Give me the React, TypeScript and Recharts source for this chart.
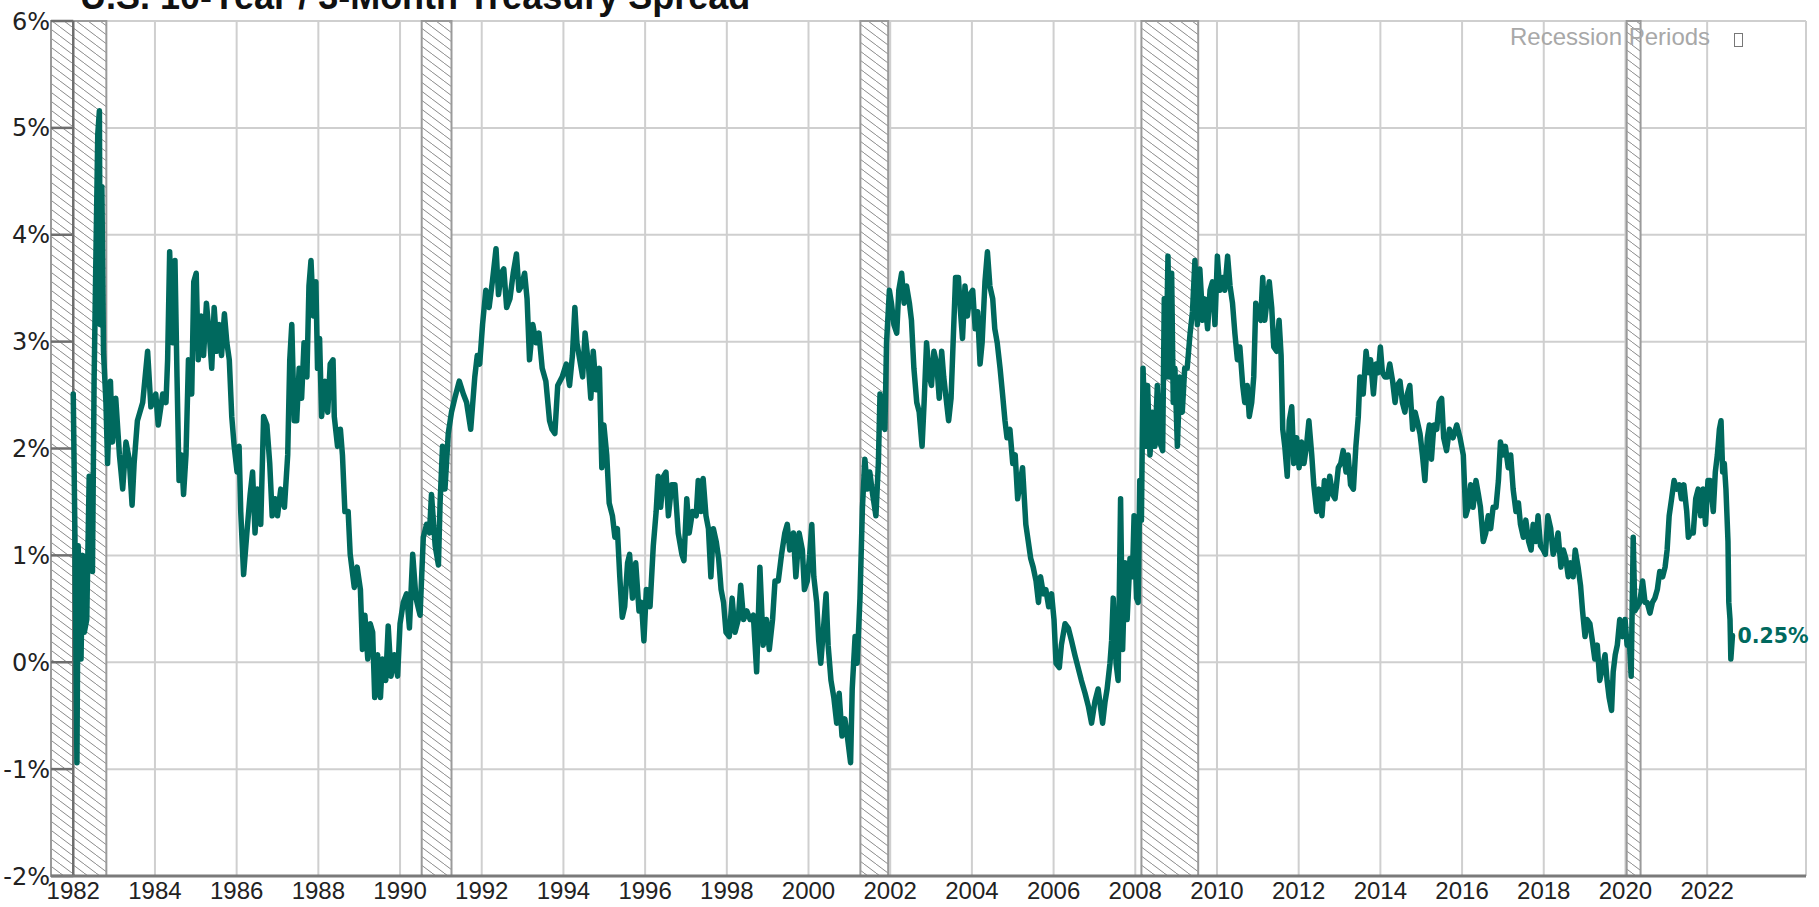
import {
  LineChart,
  Line,
  XAxis,
  YAxis,
  CartesianGrid,
  ReferenceArea,
  ReferenceLine,
  ReferenceDot,
} from 'recharts'

// 10y - 3m spread, %, [decimal year, value]
const spread1982: [number, number][] = [
  [1982.0, 2.51], [1982.04, 1.21], [1982.09, -0.94], [1982.12, 1.09], [1982.19, 0.03], [1982.23, 1.0],
  [1982.27, 0.28], [1982.33, 0.4], [1982.39, 1.74], [1982.47, 0.85], [1982.51, 2.63], [1982.55, 3.68],
  [1982.6, 4.94], [1982.64, 5.16], [1982.66, 3.16], [1982.7, 4.45], [1982.74, 2.91], [1982.8, 2.43],
  [1982.84, 1.86], [1982.91, 2.63], [1982.96, 2.06], [1983.04, 2.47], [1983.13, 1.94], [1983.21, 1.62],
  [1983.29, 2.06], [1983.37, 1.9], [1983.44, 1.47], [1983.49, 1.86], [1983.57, 2.26], [1983.7, 2.43],
  [1983.82, 2.91], [1983.9, 2.39], [1984.02, 2.51], [1984.08, 2.22], [1984.19, 2.51], [1984.27, 2.43],
  [1984.31, 2.83], [1984.36, 3.84], [1984.43, 2.99], [1984.49, 3.76], [1984.54, 2.67], [1984.59, 1.7],
  [1984.65, 1.94], [1984.7, 1.57], [1984.76, 1.94], [1984.82, 2.83], [1984.9, 2.51], [1984.95, 3.56],
  [1985.01, 3.64], [1985.06, 2.83], [1985.13, 3.24], [1985.19, 2.87], [1985.26, 3.36], [1985.33, 3.07],
  [1985.39, 2.75], [1985.45, 3.32], [1985.52, 2.91], [1985.57, 3.16], [1985.63, 2.87], [1985.7, 3.26],
  [1985.76, 2.99], [1985.82, 2.83], [1985.88, 2.3], [1985.94, 2.02], [1986.01, 1.78], [1986.06, 2.02],
  [1986.1, 1.41], [1986.17, 0.82], [1986.25, 1.21], [1986.33, 1.57], [1986.39, 1.78], [1986.45, 1.21],
  [1986.51, 1.62], [1986.59, 1.29], [1986.66, 2.3], [1986.74, 2.22], [1986.81, 1.86], [1986.87, 1.37],
  [1986.94, 1.53], [1987.0, 1.37], [1987.08, 1.62], [1987.17, 1.45], [1987.25, 1.94], [1987.3, 2.83],
  [1987.35, 3.16], [1987.41, 2.26], [1987.47, 2.26], [1987.53, 2.75], [1987.59, 2.47], [1987.65, 2.99],
  [1987.72, 2.67], [1987.77, 3.52], [1987.82, 3.76], [1987.88, 3.24], [1987.94, 3.56], [1987.98, 2.75],
  [1988.03, 3.03], [1988.08, 2.3], [1988.16, 2.63], [1988.23, 2.34], [1988.29, 2.79], [1988.36, 2.83],
  [1988.39, 2.3], [1988.47, 2.02], [1988.54, 2.18], [1988.59, 1.94], [1988.65, 1.41], [1988.73, 1.41],
  [1988.78, 1.01], [1988.88, 0.7], [1988.95, 0.89], [1989.03, 0.68], [1989.08, 0.12], [1989.14, 0.44],
  [1989.21, 0.03], [1989.27, 0.36], [1989.33, 0.28], [1989.38, -0.33], [1989.45, 0.07], [1989.52, -0.33],
  [1989.57, 0.03], [1989.65, -0.17], [1989.71, 0.34], [1989.78, -0.13], [1989.86, 0.07], [1989.94, -0.13],
  [1990.0, 0.36],
]

const spread1990: [number, number][] = [
  [1990.08, 0.56], [1990.16, 0.64], [1990.23, 0.32], [1990.31, 1.01], [1990.39, 0.6], [1990.49, 0.44],
  [1990.57, 1.17], [1990.65, 1.29], [1990.72, 1.21], [1990.77, 1.57], [1990.86, 1.09], [1990.94, 0.91],
  [1990.98, 1.49], [1991.04, 2.02], [1991.1, 1.62], [1991.18, 2.14], [1991.26, 2.34], [1991.34, 2.47],
  [1991.45, 2.63], [1991.55, 2.51], [1991.63, 2.43], [1991.73, 2.18], [1991.83, 2.67], [1991.89, 2.87],
  [1991.95, 2.79], [1992.02, 3.16], [1992.1, 3.48], [1992.18, 3.32], [1992.26, 3.56], [1992.35, 3.87],
  [1992.41, 3.44], [1992.48, 3.64], [1992.54, 3.68], [1992.61, 3.32], [1992.69, 3.4], [1992.77, 3.64],
  [1992.85, 3.82], [1992.91, 3.48], [1992.97, 3.52], [1993.05, 3.64], [1993.11, 3.4], [1993.17, 2.83],
  [1993.25, 3.16], [1993.33, 2.99], [1993.4, 3.08], [1993.48, 2.75], [1993.57, 2.63], [1993.66, 2.26],
  [1993.72, 2.18], [1993.79, 2.14], [1993.86, 2.59], [1993.97, 2.67], [1994.07, 2.79], [1994.15, 2.59],
  [1994.22, 2.87], [1994.28, 3.32], [1994.33, 2.99], [1994.4, 2.83], [1994.47, 2.67], [1994.53, 3.08],
  [1994.61, 2.79], [1994.67, 2.47], [1994.73, 2.91], [1994.8, 2.55], [1994.88, 2.75], [1994.94, 1.82],
  [1994.99, 2.22], [1995.06, 1.94], [1995.12, 1.49], [1995.2, 1.37], [1995.26, 1.17], [1995.32, 1.25],
  [1995.38, 0.8], [1995.44, 0.42], [1995.5, 0.52], [1995.57, 0.93], [1995.62, 1.01], [1995.69, 0.6],
  [1995.77, 0.93], [1995.85, 0.48], [1995.91, 0.56], [1995.97, 0.2], [1996.03, 0.68], [1996.12, 0.52],
  [1996.2, 1.09], [1996.27, 1.41], [1996.32, 1.74], [1996.38, 1.45], [1996.45, 1.74], [1996.51, 1.78],
  [1996.57, 1.37], [1996.65, 1.66], [1996.73, 1.66], [1996.81, 1.21], [1996.9, 1.01], [1996.95, 0.95],
  [1997.02, 1.53], [1997.08, 1.21], [1997.16, 1.41], [1997.25, 1.37], [1997.3, 1.7], [1997.37, 1.41],
  [1997.42, 1.72], [1997.49, 1.37], [1997.55, 1.25], [1997.61, 0.8], [1997.67, 1.25], [1997.74, 1.13],
  [1997.8, 0.97], [1997.86, 0.68], [1997.92, 0.56], [1997.98, 0.28], [1998.06, 0.24], [1998.13, 0.6],
  [1998.2, 0.28], [1998.28, 0.4], [1998.34, 0.72], [1998.41, 0.4], [1998.49, 0.48],
]

const spread1998: [number, number][] = [
  [1998.57, 0.4], [1998.65, 0.44], [1998.73, -0.09], [1998.81, 0.89], [1998.89, 0.16], [1998.97, 0.4],
  [1999.04, 0.12], [1999.12, 0.4], [1999.18, 0.76], [1999.26, 0.76], [1999.34, 1.01], [1999.42, 1.21],
  [1999.48, 1.29], [1999.54, 1.05], [1999.63, 1.21], [1999.69, 0.8], [1999.77, 1.21], [1999.85, 1.05],
  [1999.9, 0.68], [1999.97, 0.76], [2000.03, 1.01], [2000.08, 1.29], [2000.13, 0.8], [2000.2, 0.56],
  [2000.25, 0.2], [2000.3, -0.01], [2000.36, 0.28], [2000.43, 0.64], [2000.48, 0.16], [2000.55, -0.17],
  [2000.62, -0.33], [2000.69, -0.57], [2000.75, -0.29], [2000.82, -0.69], [2000.89, -0.53], [2000.95, -0.69],
  [2001.03, -0.94], [2001.07, -0.25], [2001.14, 0.24], [2001.19, -0.01], [2001.26, 0.6], [2001.32, 1.45],
  [2001.38, 1.9], [2001.44, 1.62], [2001.5, 1.78], [2001.57, 1.57], [2001.65, 1.37], [2001.71, 1.86],
  [2001.75, 2.51], [2001.81, 2.22], [2001.87, 2.18], [2001.91, 2.99], [2001.98, 3.48], [2002.03, 3.36],
  [2002.09, 3.16], [2002.16, 3.08], [2002.21, 3.48], [2002.28, 3.64], [2002.34, 3.36], [2002.4, 3.52],
  [2002.47, 3.36], [2002.52, 3.2], [2002.58, 2.75], [2002.65, 2.43], [2002.71, 2.34], [2002.78, 2.02],
  [2002.83, 2.43], [2002.89, 2.99], [2002.96, 2.67], [2003.01, 2.59], [2003.07, 2.91], [2003.14, 2.79],
  [2003.2, 2.47], [2003.26, 2.91], [2003.31, 2.67], [2003.38, 2.43], [2003.43, 2.26], [2003.49, 2.47],
  [2003.54, 2.99], [2003.6, 3.6], [2003.67, 3.6], [2003.72, 3.28], [2003.77, 3.03], [2003.83, 3.52],
  [2003.89, 3.24], [2003.95, 3.44], [2004.02, 3.48], [2004.08, 3.12], [2004.14, 3.28], [2004.2, 2.79],
  [2004.25, 2.99], [2004.32, 3.56], [2004.38, 3.84], [2004.44, 3.52], [2004.51, 3.4], [2004.56, 3.12],
  [2004.62, 2.99], [2004.69, 2.75], [2004.75, 2.51], [2004.81, 2.26], [2004.86, 2.1], [2004.93, 2.18],
  [2005.0, 1.86], [2005.06, 1.94], [2005.12, 1.53], [2005.19, 1.7], [2005.24, 1.82], [2005.32, 1.29],
  [2005.38, 1.13], [2005.44, 0.97], [2005.5, 0.89], [2005.57, 0.76], [2005.63, 0.56], [2005.68, 0.8],
  [2005.75, 0.64], [2005.81, 0.68], [2005.88, 0.52], [2005.95, 0.64], [2006.01, 0.4], [2006.06, -0.01],
  [2006.14, -0.05], [2006.19, 0.16], [2006.28, 0.36], [2006.36, 0.32], [2006.44, 0.2], [2006.52, 0.07],
  [2006.6, -0.05], [2006.68, -0.17], [2006.77, -0.29], [2006.85, -0.41], [2006.93, -0.57], [2007.01, -0.37],
  [2007.09, -0.25],
]

const spread2007: [number, number][] = [
  [2007.2, -0.57], [2007.26, -0.37], [2007.31, -0.25], [2007.38, -0.01], [2007.42, 0.2], [2007.46, 0.6],
  [2007.53, -0.01], [2007.58, -0.17], [2007.64, 1.53], [2007.69, 0.12], [2007.75, 0.93], [2007.8, 0.4],
  [2007.87, 0.97], [2007.93, 0.8], [2007.97, 1.37], [2008.03, 0.6], [2008.07, 0.56], [2008.11, 1.7],
  [2008.15, 1.33], [2008.19, 2.75], [2008.25, 2.02], [2008.3, 2.59], [2008.36, 1.94], [2008.42, 2.34],
  [2008.48, 2.02], [2008.54, 2.59], [2008.6, 2.06], [2008.67, 1.98], [2008.71, 3.4], [2008.75, 2.67],
  [2008.8, 3.8], [2008.85, 2.67], [2008.89, 3.64], [2008.93, 2.43], [2008.97, 2.75], [2009.03, 2.02],
  [2009.09, 2.67], [2009.15, 2.34], [2009.21, 2.75], [2009.27, 2.75], [2009.34, 3.07], [2009.4, 3.28],
  [2009.46, 3.76], [2009.52, 3.16], [2009.58, 3.68], [2009.65, 3.2], [2009.7, 3.4], [2009.77, 3.12],
  [2009.83, 3.48], [2009.89, 3.56], [2009.95, 3.16], [2010.01, 3.8], [2010.07, 3.48], [2010.14, 3.6],
  [2010.19, 3.48], [2010.26, 3.8], [2010.32, 3.52], [2010.38, 3.36], [2010.44, 3.07], [2010.5, 2.83],
  [2010.56, 2.95], [2010.63, 2.59], [2010.68, 2.43], [2010.74, 2.59], [2010.79, 2.3], [2010.85, 2.43],
  [2010.9, 2.67], [2010.95, 3.36], [2011.01, 3.24], [2011.07, 3.2], [2011.12, 3.6], [2011.17, 3.2],
  [2011.23, 3.4], [2011.28, 3.56], [2011.34, 3.32], [2011.39, 2.95], [2011.46, 2.91], [2011.52, 3.2],
  [2011.57, 2.87], [2011.61, 2.18], [2011.66, 2.02], [2011.72, 1.74], [2011.77, 2.26], [2011.83, 2.39],
  [2011.88, 1.86], [2011.95, 2.1], [2012.01, 1.82], [2012.07, 2.06], [2012.13, 1.86], [2012.19, 2.02],
  [2012.25, 2.26], [2012.32, 1.94], [2012.37, 1.66], [2012.44, 1.41], [2012.5, 1.62], [2012.57, 1.37],
  [2012.63, 1.7], [2012.7, 1.53], [2012.76, 1.74], [2012.83, 1.57], [2012.89, 1.53], [2012.97, 1.82],
  [2013.03, 1.86], [2013.09, 1.98], [2013.16, 1.78], [2013.21, 1.94], [2013.27, 1.66], [2013.34, 1.62],
  [2013.4, 2.02], [2013.46, 2.3], [2013.5, 2.67], [2013.58, 2.51], [2013.65, 2.91], [2013.71, 2.71],
  [2013.76, 2.83], [2013.83, 2.51], [2013.89, 2.79], [2013.95, 2.71], [2014.0, 2.95], [2014.05, 2.71],
  [2014.11, 2.67], [2014.17, 2.67], [2014.23, 2.79], [2014.3, 2.63], [2014.36, 2.43], [2014.41, 2.59],
  [2014.48, 2.63], [2014.54, 2.43], [2014.6, 2.34], [2014.66, 2.51], [2014.72, 2.59], [2014.79, 2.18],
  [2014.85, 2.34], [2014.9, 2.26], [2014.97, 2.14], [2015.03, 1.94], [2015.09, 1.7], [2015.15, 2.1],
  [2015.2, 2.22], [2015.25, 1.9], [2015.31, 2.22], [2015.38, 2.18], [2015.44, 2.43], [2015.5, 2.47],
  [2015.55, 2.1], [2015.62, 1.98], [2015.69, 2.18],
]

const spread2015: [number, number][] = [
  [2015.78, 2.1], [2015.87, 2.22], [2015.95, 2.1], [2016.03, 1.94], [2016.09, 1.37], [2016.15, 1.45],
  [2016.21, 1.66], [2016.27, 1.45], [2016.34, 1.7], [2016.4, 1.57], [2016.45, 1.45], [2016.52, 1.13],
  [2016.58, 1.21], [2016.64, 1.37], [2016.7, 1.25], [2016.76, 1.45], [2016.83, 1.45], [2016.89, 1.7],
  [2016.94, 2.06], [2017.01, 1.94], [2017.06, 2.02], [2017.13, 1.82], [2017.19, 1.94], [2017.25, 1.62],
  [2017.32, 1.41], [2017.38, 1.49], [2017.43, 1.29], [2017.5, 1.17], [2017.56, 1.33], [2017.63, 1.13],
  [2017.69, 1.05], [2017.74, 1.29], [2017.81, 1.13], [2017.86, 1.37], [2017.92, 1.09], [2017.99, 1.05],
  [2018.04, 1.01], [2018.1, 1.37], [2018.17, 1.25], [2018.23, 1.01], [2018.3, 1.09], [2018.35, 1.21],
  [2018.42, 0.89], [2018.48, 1.05], [2018.54, 0.97], [2018.6, 0.8], [2018.66, 0.93], [2018.72, 0.8],
  [2018.77, 1.05], [2018.84, 0.89], [2018.9, 0.72], [2018.95, 0.48], [2019.01, 0.24], [2019.06, 0.4],
  [2019.13, 0.36], [2019.19, 0.2], [2019.25, 0.03], [2019.31, 0.16], [2019.37, -0.17], [2019.44, -0.05],
  [2019.5, 0.07], [2019.55, -0.17], [2019.6, -0.33], [2019.66, -0.45], [2019.7, -0.09], [2019.75, 0.07],
  [2019.8, 0.16], [2019.86, 0.4], [2019.93, 0.24], [2019.99, 0.4], [2020.04, 0.16], [2020.09, 0.24],
  [2020.14, -0.13], [2020.19, 1.17], [2020.23, 0.48], [2020.29, 0.52], [2020.35, 0.56], [2020.42, 0.76],
  [2020.48, 0.56], [2020.53, 0.56], [2020.6, 0.46], [2020.66, 0.56], [2020.72, 0.6], [2020.78, 0.68],
  [2020.84, 0.85], [2020.91, 0.8], [2020.97, 0.89], [2021.02, 1.05], [2021.07, 1.37], [2021.13, 1.53],
  [2021.19, 1.7], [2021.25, 1.62], [2021.32, 1.66], [2021.37, 1.53], [2021.43, 1.66], [2021.5, 1.41],
  [2021.54, 1.17], [2021.59, 1.21], [2021.66, 1.21], [2021.72, 1.53], [2021.78, 1.62], [2021.84, 1.37],
  [2021.9, 1.62], [2021.96, 1.29], [2022.02, 1.7], [2022.08, 1.7], [2022.15, 1.41], [2022.2, 1.78],
  [2022.25, 1.94], [2022.3, 2.18], [2022.34, 2.26], [2022.38, 1.78], [2022.42, 1.86], [2022.46, 1.62],
  [2022.51, 1.13], [2022.53, 0.56], [2022.56, 0.4], [2022.58, 0.03], [2022.62, 0.25],
]

// recession shading, decimal years
const recessionStart = [1981.455, 1990.53, 2001.27, 2008.15, 2020.03]
const recessionEnd = [1982.81, 1991.26, 2001.95, 2009.54, 2020.37]

const xTicks = [1982, 1984, 1986, 1988, 1990, 1992, 1994, 1996, 1998, 2000, 2002, 2004, 2006, 2008, 2010, 2012, 2014, 2016, 2018, 2020, 2022]
const yTicks = [-2, -1, 0, 1, 2, 3, 4, 5, 6]

const X_MIN = 1981.455
const X_MAX = 2024.42
const TEAL = '#00695E'

const data = [...spread1982, ...spread1990, ...spread1998, ...spread2007, ...spread2015].map(([t, v]) => ({ t, v }))
const last = data[data.length - 1]

const EndLabel = (props: any) => {
  const vb = props.viewBox || {}
  return (
    <text
      x={vb.x + 5}
      y={vb.y}
      dominantBaseline="central"
      fill={TEAL}
      fontSize={20.5}
      fontWeight={700}
      fontFamily="'DejaVu Sans', sans-serif"
    >
      {last.v.toFixed(2)}%
    </text>
  )
}

export default function App() {
  return (
    <div style={{ position: 'absolute', left: 0, top: 0, width: 1819, height: 907, background: '#fff' }}>
      <LineChart width={1819} height={907} data={data} margin={{ top: 21, right: 13, bottom: 0, left: 0 }}>
        <defs>
          <pattern id="hatch" width="12" height="9" patternUnits="userSpaceOnUse">
            <rect width="12" height="9" fill="#fff" />
            <path d="M-1,-0.75 L13,9.75" stroke="#8a8a8a" strokeWidth={1} />
          </pattern>
        </defs>
        <CartesianGrid stroke="#cfcfcf" strokeWidth={2} />
        <XAxis
          dataKey="t"
          type="number"
          domain={[X_MIN, X_MAX]}
          ticks={xTicks}
          interval={0}
          allowDataOverflow
          height={31}
          tickLine={false}
          tickSize={0}
          tickMargin={6}
          axisLine={{ stroke: '#7a7a7a', strokeWidth: 3 }}
          tick={{ fontFamily: "'Liberation Sans', Arial, sans-serif", fontSize: 24, fill: '#222' }}
        />
        <YAxis
          type="number"
          domain={[-2, 6]}
          ticks={yTicks}
          interval={0}
          width={51}
          tickLine={false}
          tickSize={0}
          tickMargin={1}
          axisLine={false}
          tickFormatter={(v: number) => `${v}%`}
          tick={{ fontFamily: "'DejaVu Sans', sans-serif", fontSize: 24, fill: '#222' }}
        />
        {recessionStart.map((s, i) => (
          <ReferenceArea
            key={s}
            x1={s}
            x2={recessionEnd[i]}
            fill="url(#hatch)"
            fillOpacity={1}
            stroke="#9a9a9a"
            strokeWidth={2}
          />
        ))}
        <ReferenceLine x={1982} stroke="#6e6e6e" strokeWidth={2.5} />
        {yTicks.map((y) => (
          <ReferenceLine
            key={y}
            segment={[{ x: X_MIN, y }, { x: 1982, y }]}
            stroke="#6e6e6e"
            strokeWidth={2.5}
          />
        ))}
        <Line
          type="linear"
          dataKey="v"
          stroke={TEAL}
          strokeWidth={5.5}
          strokeLinejoin="round"
          strokeLinecap="round"
          dot={false}
          isAnimationActive={false}
        />
        <ReferenceDot x={last.t} y={last.v} r={0} fill="none" stroke="none" label={<EndLabel />} />
      </LineChart>
      <svg width={1819} height={907} style={{ position: 'absolute', left: 0, top: 0, pointerEvents: 'none' }}>
        <text x={80} y={9} fontFamily="'Liberation Sans', Arial, sans-serif" fontWeight={700} fontSize={36} fill="#111">
          U.S. 10-Year / 3-Month Treasury Spread
        </text>
        <text x={1510} y={45} fontFamily="'Liberation Sans', Arial, sans-serif" fontSize={24} fill="#a8a8a8">
          Recession Periods
        </text>
        <rect x={1734.5} y={33.5} width={8} height={13} fill="none" stroke="#777" strokeWidth={1} />
      </svg>
    </div>
  )
}
